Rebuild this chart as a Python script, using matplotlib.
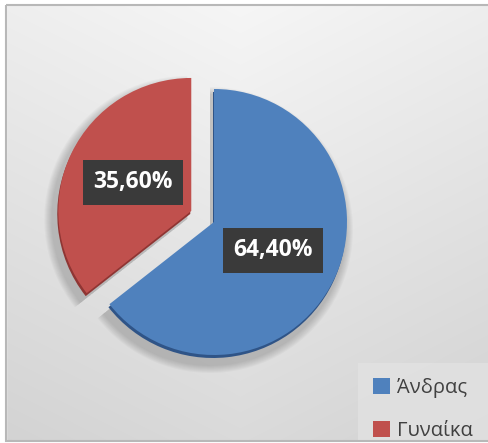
import numpy as np
import matplotlib

matplotlib.use("Agg")
from matplotlib import pyplot as plt
from matplotlib.patches import Rectangle

# data
labels = ["Άνδρας", "Γυναίκα"]
shares = [64.40, 35.60]
colors = ["#4f81bd", "#c0504d"]
edge_colors = ["#2f5487", "#8f3533"]

W, H = 488, 443
CX, CY, R = 214, H - 222, 133
explode = [0.0, 0.19 * R]  # pie() takes explode in data units

plt.rcParams["font.family"] = ["Open Sans", "DejaVu Sans"]

figure = plt.figure(figsize=(W / 100, H / 100), dpi=100)

# background gradient: light at the top, greyer towards the bottom and sides
bg_axis = figure.add_axes([0, 0, 1, 1])
yy, xx = np.mgrid[0:H, 0:W]
shade = 0.965 - 0.11 * (yy / H) - 0.03 * np.abs(xx - 240) / 240.0
bg_axis.imshow(np.dstack([shade] * 3), extent=(0, W, H, 0), aspect="auto")
bg_axis.set_xlim(0, W)
bg_axis.set_ylim(H, 0)
bg_axis.axis("off")

axis = figure.add_axes([0, 0, 1, 1])

# soft shadow
for step in range(8):
    axis.pie(
        shares,
        explode=explode,
        startangle=90,
        counterclock=False,
        radius=R + 10 - step,
        center=(CX - 4, CY - 8),
        colors=["#000000"] * 2,
        wedgeprops={"alpha": 0.025, "linewidth": 0},
        frame=True,
    )

# darker rim under the pie for a bevel look
axis.pie(
    shares,
    explode=explode,
    startangle=90,
    counterclock=False,
    radius=R,
    center=(CX - 1, CY - 3),
    colors=edge_colors,
    wedgeprops={"linewidth": 0},
    frame=True,
)

wedges, texts, autotexts = axis.pie(
    shares,
    explode=explode,
    startangle=90,
    counterclock=False,
    radius=R,
    center=(CX, CY),
    colors=colors,
    autopct=lambda p: f"{p:.2f}%".replace(".", ","),
    pctdistance=0.49,
    wedgeprops={"linewidth": 0},
    textprops={"color": "white", "fontsize": 16.5, "fontweight": "bold"},
    frame=True,
)
for text in autotexts:
    text.set_bbox({"boxstyle": "square,pad=0.45", "facecolor": "#3a3a3a", "edgecolor": "none"})

axis.set_xlim(0, W)
axis.set_ylim(0, H)
axis.set_aspect("equal")
axis.axis("off")

legend = axis.legend(
    wedges,
    labels,
    loc="lower right",
    bbox_to_anchor=(1.0, -0.03),
    frameon=True,
    fontsize=14.5,
    handlelength=0.85,
    handleheight=0.85,
    handletextpad=0.35,
    labelspacing=1.15,
    borderpad=0.75,
    borderaxespad=0.0,
    fancybox=False,
)
legend.get_frame().set_facecolor("#e2e2e2")
legend.get_frame().set_edgecolor("none")
for text in legend.get_texts():
    text.set_color("#404040")

# white margin and thin grey outline of the chart area, drawn on top
border_axis = figure.add_axes([0, 0, 1, 1])
border_axis.set_xlim(0, W)
border_axis.set_ylim(H, 0)
border_axis.axis("off")
border_axis.patch.set_alpha(0)
border_axis.add_patch(Rectangle((0, 0), 6, H, color="white"))
border_axis.add_patch(Rectangle((0, 0), W, 4, color="white"))
border_axis.add_patch(Rectangle((0, 441), W, 3, color="white"))
border_axis.add_patch(Rectangle((6, 4.5), W, 436, fill=False, edgecolor="#b8b8b8", linewidth=1.5))

figure.savefig("out.png", dpi=100)
plt.close(figure)
